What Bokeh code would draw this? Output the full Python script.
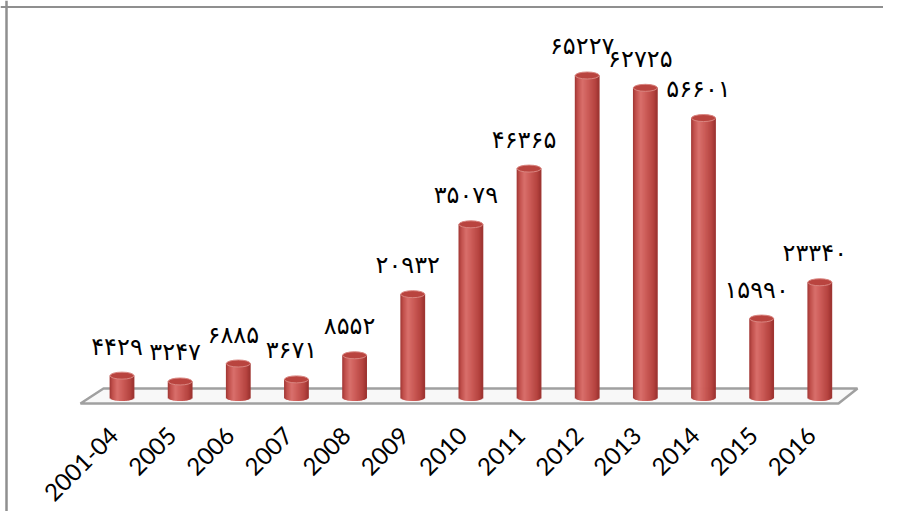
import numpy as np
from bokeh.plotting import figure
from bokeh.models import Range1d, FixedTicker, Span, ColumnDataSource
from bokeh.core.properties import value
from bokeh.embed import file_html
from bokeh.resources import INLINE

# ---------------- data ----------------
categories = ["2001-04", "2005", "2006", "2007", "2008", "2009", "2010",
              "2011", "2012", "2013", "2014", "2015", "2016"]
counts = [4429, 3247, 6885, 3671, 8552, 20932, 35079,
          46365, 65227, 62725, 56601, 15990, 23340]
persian_digits = str.maketrans("0123456789", "۰۱۲۳۴۵۶۷۸۹")
count_labels = [str(v).translate(persian_digits) for v in counts]

# ---------------- layout ----------------
W, H = 883, 511
PX_PER_X = 58.15          # pixels per category
UNITS_PER_PX = 202.55     # value units per vertical pixel
BASE_X = 121.5            # pixel position of the first category
BASE_Y = 397              # pixel position of value 0
x_start = -BASE_X / PX_PER_X
x_end = x_start + W / PX_PER_X
y_end = BASE_Y * UNITS_PER_PX
y_start = -(H - BASE_Y) * UNITS_PER_PX

idx = np.arange(len(categories))

p = figure(width=W, height=H, output_backend="svg", toolbar_location=None,
           x_range=Range1d(x_start, x_end), y_range=Range1d(y_start, y_end),
           min_border=0, min_border_left=0, min_border_right=0,
           min_border_top=0, min_border_bottom=0)
p.grid.visible = False
p.yaxis.visible = False
p.outline_line_color = None
p.background_fill_color = "white"
p.border_fill_color = "white"

# left / top frame lines of the chart area
p.add_layout(Span(location=x_start + 6 / PX_PER_X, dimension="height",
                  line_color="#8f8f8f", line_width=2.5))
p.add_layout(Span(location=y_end - 6.5 * UNITS_PER_PX, dimension="width",
                  line_color="#8f8f8f", line_width=2.0))

# floor (3D base plane)
floor_lo = -6 * UNITS_PER_PX
floor_hi = 9 * UNITS_PER_PX
n = len(categories)
floor_x = [-0.714, -0.318, (n - 1) + 0.648, (n - 1) + 0.321]
floor_y = [floor_lo, floor_hi, floor_hi, floor_lo]
p.patch(floor_x, floor_y, fill_color="#f8f8f8", line_color="#a0a0a0", line_width=2.5)

# cylinders
bar_w = 24 / PX_PER_X
ry = 3.5 * UNITS_PER_PX
N = 24
stops_t = [0.0, 0.12, 0.32, 0.55, 0.85, 1.0]
stops_c = [(0xa0, 0x36, 0x33), (0xc2, 0x50, 0x4c), (0xd9, 0x70, 0x6c),
           (0xcc, 0x5c, 0x58), (0xb6, 0x44, 0x40), (0x9c, 0x33, 0x30)]


def ramp(t):
    r = np.interp(t, stops_t, [c[0] for c in stops_c])
    g = np.interp(t, stops_t, [c[1] for c in stops_c])
    b = np.interp(t, stops_t, [c[2] for c in stops_c])
    return "#%02x%02x%02x" % (int(r), int(g), int(b))


src = ColumnDataSource(dict(x=idx, top=counts, label=count_labels))
for k in range(N):
    t = (k + 0.5) / N
    off = (t - 0.5) * bar_w
    bottom = -ry * np.sqrt(max(0.0, 1 - (2 * off / bar_w) ** 2))
    p.vbar(x=idx + off, top=counts, bottom=bottom, width=bar_w / N * 1.8,
           fill_color=ramp(t), line_color=None)

p.ellipse(x="x", y="top", width=bar_w, height=7, height_units="screen",
          source=src, fill_color="#b9443f", line_color="#d98580", line_width=1)

# value labels
p.text(x="x", y="top", text="label", source=src, x_offset=-5, y_offset=-29,
       text_align="center", text_baseline="middle",
       text_font=value("DejaVu Sans"), text_font_size="24px", text_color="black")

# category axis (drawn at a fixed location under the floor); the labels sit a
# little left of the cylinders because of the 3D perspective
label_shift = 0.14
tick_pos = [round(float(i) - label_shift, 2) for i in idx]
ax = p.xaxis[0]
ax.fixed_location = -24 * UNITS_PER_PX
ax.ticker = FixedTicker(ticks=tick_pos)
ax.major_label_overrides = {t: c for t, c in zip(tick_pos, categories)}
ax.major_label_orientation = np.pi / 4
ax.major_label_text_font = "Lato"
ax.major_label_text_font_size = "24px"
ax.major_label_text_color = "black"
ax.major_label_standoff = 4
ax.axis_line_color = None
ax.major_tick_line_color = None
ax.minor_tick_line_color = None

open("out.html", "w").write(file_html(p, INLINE))
